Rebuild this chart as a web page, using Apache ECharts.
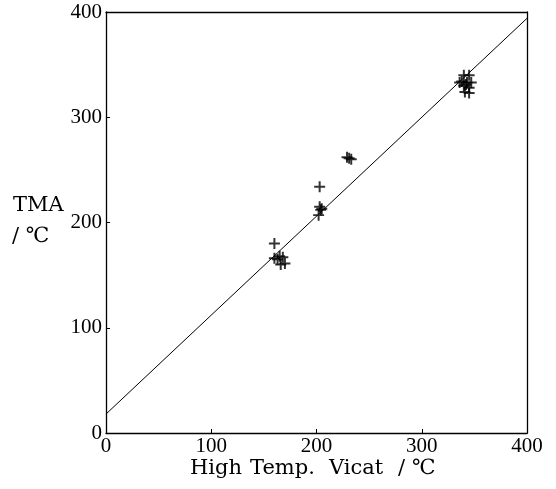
<!DOCTYPE html>
<html><head><meta charset="utf-8">
<script src="https://cdn.jsdelivr.net/npm/echarts@6/dist/echarts.min.js"></script>
<style>html,body{margin:0;padding:0;background:#fff}#c{width:556px;height:489px}</style>
</head><body><div id="c"></div>
<script>
var xTicks = [0, 100, 200, 300, 400];
var yTicks = [0, 100, 200, 300, 400];
var vicat = [160, 160, 163, 165, 168, 170, 166, 203, 203, 204, 202, 205, 229, 233, 231, 340, 345, 338, 343, 347, 342, 340, 345, 341, 345, 336];
var tma   = [180, 166, 165, 168, 167, 161, 160, 234, 215, 212, 207, 213, 262, 260, 261, 340, 340, 334, 333, 333, 331, 330, 328, 324, 323, 333];
var fitX = [0, 400];
var fitY = [18, 394];
var xTitleWords = ['High', 'Temp.', 'Vicat', '/', '℃'];
var yTitleLines = ['TMA', '/ ℃'];

var FONT = '"Liberation Serif","DejaVu Serif",serif';
var TFONT = '"DejaVu Serif","Liberation Serif",serif';
var pts = vicat.map(function (v, i) { return [v, tma[i]]; });
var fit = fitX.map(function (v, i) { return [v, fitY[i]]; });
var plus = 'path://M0,4.1H10V5.9H0Z M4.1,0H5.9V10H4.1Z';

var xWordLeft = [190, 250, 329, 398, 412];
var graphics = xTitleWords.map(function (w, i) {
  return {type: 'text', left: xWordLeft[i], top: 458, style: {text: w, font: '21px ' + TFONT, fill: '#000'}};
});
graphics.push({type: 'text', left: 13, top: 195, style: {text: yTitleLines[0], font: '21px ' + TFONT, fill: '#000'}});
graphics.push({type: 'text', left: 12, top: 226, style: {text: yTitleLines[1], font: '21px ' + TFONT, fill: '#000'}});

var chart = echarts.init(document.getElementById('c'), null, {renderer: 'canvas'});
chart.setOption({
  animation: false,
  backgroundColor: '#fff',
  grid: {left: 106, right: 29, top: 12, bottom: 56, show: false},
  xAxis: [{
    type: 'value', min: 0, max: 400, interval: 100, position: 'bottom',
    axisLine: {show: true, lineStyle: {color: '#000', width: 1.3}},
    axisTick: {show: true, inside: true, length: 4, lineStyle: {color: '#000', width: 1}},
    axisLabel: {color: '#000', fontFamily: FONT, fontSize: 21, margin: 3,
      formatter: function (v) { return xTicks.indexOf(v) >= 0 ? String(v) : ''; }},
    splitLine: {show: false}
  }, {
    type: 'value', min: 0, max: 400, position: 'top',
    axisLine: {show: true, onZero: false, lineStyle: {color: '#000', width: 1.3}},
    axisTick: {show: false}, axisLabel: {show: false}, splitLine: {show: false}
  }],
  yAxis: [{
    type: 'value', min: 0, max: 400, interval: 100, position: 'left',
    axisLine: {show: true, lineStyle: {color: '#000', width: 1.3}},
    axisTick: {show: true, inside: true, length: 4, lineStyle: {color: '#000', width: 1}},
    axisLabel: {color: '#000', fontFamily: FONT, fontSize: 21, margin: 4,
      formatter: function (v) { return yTicks.indexOf(v) >= 0 ? String(v) : ''; }},
    splitLine: {show: false}
  }, {
    type: 'value', min: 0, max: 400, position: 'right',
    axisLine: {show: true, onZero: false, lineStyle: {color: '#000', width: 1.3}},
    axisTick: {show: false}, axisLabel: {show: false}, splitLine: {show: false}
  }],
  graphic: graphics,
  series: [{
    type: 'line', data: fit, showSymbol: false, symbol: 'none',
    lineStyle: {color: '#000', width: 1}, silent: true
  }, {
    type: 'scatter', data: pts, symbol: plus, symbolSize: 11,
    itemStyle: {color: '#000'}, silent: true
  }]
});
</script></body></html>
